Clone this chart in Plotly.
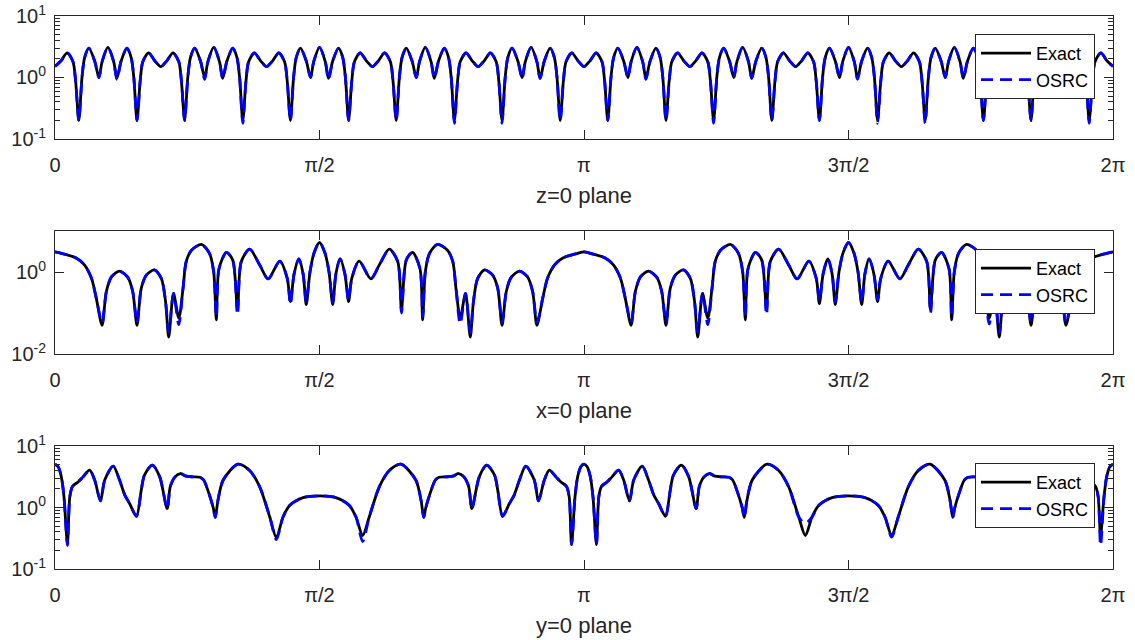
import numpy as np
import plotly.graph_objects as go

# ---------------- data (angle in units of pi) ----------------
# z=0 plane
t_z = [0.000, 0.011, 0.023, 0.034, 0.039, 0.045, 0.051, 0.056, 0.064, 0.075, 0.083, 0.089, 0.100, 0.111, 0.117, 0.125, 0.136, 0.144, 0.149, 0.155, 0.161, 0.166, 0.177, 0.189,
       0.200, 0.211, 0.223, 0.234, 0.239, 0.245, 0.251, 0.256, 0.264, 0.275, 0.283, 0.289, 0.300, 0.311, 0.317, 0.325, 0.336, 0.344, 0.349, 0.355, 0.361, 0.366, 0.377, 0.389,
       0.400, 0.411, 0.423, 0.434, 0.439, 0.445, 0.451, 0.456, 0.464, 0.475, 0.483, 0.489, 0.500, 0.511, 0.517, 0.525, 0.536, 0.544, 0.549, 0.555, 0.561, 0.566, 0.577, 0.589,
       0.600, 0.611, 0.623, 0.634, 0.639, 0.645, 0.651, 0.656, 0.664, 0.675, 0.683, 0.689, 0.700, 0.711, 0.717, 0.725, 0.736, 0.744, 0.749, 0.755, 0.761, 0.766, 0.777, 0.789,
       0.800, 0.811, 0.823, 0.834, 0.839, 0.845, 0.851, 0.856, 0.864, 0.875, 0.883, 0.889, 0.900, 0.911, 0.917, 0.925, 0.936, 0.944, 0.949, 0.955, 0.961, 0.966, 0.977, 0.989,
       1.000, 1.011, 1.023, 1.034, 1.039, 1.045, 1.051, 1.056, 1.064, 1.075, 1.083, 1.089, 1.100, 1.111, 1.117, 1.125, 1.136, 1.144, 1.149, 1.155, 1.161, 1.166, 1.177, 1.189,
       1.200, 1.211, 1.223, 1.234, 1.239, 1.245, 1.251, 1.256, 1.264, 1.275, 1.283, 1.289, 1.300, 1.311, 1.317, 1.325, 1.336, 1.344, 1.349, 1.355, 1.361, 1.366, 1.377, 1.389,
       1.400, 1.411, 1.423, 1.434, 1.439, 1.445, 1.451, 1.456, 1.464, 1.475, 1.483, 1.489, 1.500, 1.511, 1.517, 1.525, 1.536, 1.544, 1.549, 1.555, 1.561, 1.566, 1.577, 1.589,
       1.600, 1.611, 1.623, 1.634, 1.639, 1.645, 1.651, 1.656, 1.664, 1.675, 1.683, 1.689, 1.700, 1.711, 1.717, 1.725, 1.736, 1.744, 1.749, 1.755, 1.761, 1.766, 1.777, 1.789,
       1.800, 1.811, 1.823, 1.834, 1.839, 1.845, 1.851, 1.856, 1.864, 1.875, 1.883, 1.889, 1.900, 1.911, 1.917, 1.925, 1.936, 1.944, 1.949, 1.955, 1.961, 1.966, 1.977, 1.989,
       2.000]
exact_z = [1.52, 1.85, 2.52, 1.80, 0.87, 0.20, 1.00, 2.10, 3.00, 1.85, 1.00, 1.80, 3.10, 1.80, 0.97, 1.85, 3.00, 2.10, 1.00, 0.20, 0.87, 1.80, 2.52, 1.85,
           1.50, 1.85, 2.52, 1.80, 0.87, 0.20, 1.00, 2.10, 3.00, 1.85, 1.00, 1.80, 3.10, 1.80, 0.97, 1.85, 3.00, 2.10, 1.00, 0.20, 0.87, 1.80, 2.52, 1.85,
           1.50, 1.85, 2.52, 1.80, 0.87, 0.20, 1.00, 2.10, 3.00, 1.85, 1.00, 1.80, 3.10, 1.80, 0.97, 1.85, 3.00, 2.10, 1.00, 0.20, 0.87, 1.80, 2.52, 1.85,
           1.50, 1.85, 2.52, 1.80, 0.87, 0.20, 1.00, 2.10, 3.00, 1.85, 1.00, 1.80, 3.10, 1.80, 0.97, 1.85, 3.00, 2.10, 1.00, 0.20, 0.87, 1.80, 2.52, 1.85,
           1.50, 1.85, 2.52, 1.80, 0.87, 0.20, 1.00, 2.10, 3.00, 1.85, 1.00, 1.80, 3.10, 1.80, 0.97, 1.85, 3.00, 2.10, 1.00, 0.20, 0.87, 1.80, 2.52, 1.85,
           1.50, 1.85, 2.52, 1.80, 0.87, 0.20, 1.00, 2.10, 3.00, 1.85, 1.00, 1.80, 3.10, 1.80, 0.97, 1.85, 3.00, 2.10, 1.00, 0.20, 0.87, 1.80, 2.52, 1.85,
           1.50, 1.85, 2.52, 1.80, 0.87, 0.20, 1.00, 2.10, 3.00, 1.85, 1.00, 1.80, 3.10, 1.80, 0.97, 1.85, 3.00, 2.10, 1.00, 0.20, 0.87, 1.80, 2.52, 1.85,
           1.50, 1.85, 2.52, 1.80, 0.87, 0.20, 1.00, 2.10, 3.00, 1.85, 1.00, 1.80, 3.10, 1.80, 0.97, 1.85, 3.00, 2.10, 1.00, 0.20, 0.87, 1.80, 2.52, 1.85,
           1.50, 1.85, 2.52, 1.80, 0.87, 0.20, 1.00, 2.10, 3.00, 1.85, 1.00, 1.80, 3.10, 1.80, 0.97, 1.85, 3.00, 2.10, 1.00, 0.20, 0.87, 1.80, 2.52, 1.85,
           1.50, 1.85, 2.52, 1.80, 0.87, 0.20, 1.00, 2.10, 3.00, 1.85, 1.00, 1.80, 3.10, 1.80, 0.97, 1.85, 3.00, 2.10, 1.00, 0.20, 0.87, 1.80, 2.52, 1.85,
           1.52]
osrc_z = [1.52, 1.85, 2.52, 1.80, 0.87, 0.20, 1.00, 2.10, 3.00, 1.85, 1.00, 1.80, 3.10, 1.80, 0.93, 1.85, 3.00, 2.10, 1.00, 0.20, 0.87, 1.80, 2.52, 1.85,
          1.50, 1.85, 2.52, 1.80, 0.87, 0.20, 1.00, 2.10, 3.00, 1.85, 0.93, 1.80, 3.10, 1.80, 0.97, 1.85, 3.00, 2.10, 1.00, 0.18, 0.87, 1.80, 2.52, 1.85,
          1.50, 1.85, 2.52, 1.80, 0.87, 0.20, 1.00, 2.10, 3.00, 1.85, 1.00, 1.80, 3.10, 1.80, 0.93, 1.85, 3.00, 2.10, 1.00, 0.20, 0.87, 1.80, 2.52, 1.85,
          1.50, 1.85, 2.52, 1.80, 0.87, 0.20, 1.00, 2.10, 3.00, 1.85, 1.00, 1.80, 3.10, 1.80, 0.97, 1.85, 3.00, 2.10, 1.00, 0.18, 0.87, 1.80, 2.52, 1.85,
          1.50, 1.85, 2.52, 1.80, 0.87, 0.18, 1.00, 2.10, 3.00, 1.85, 0.95, 1.80, 3.10, 1.80, 0.97, 1.85, 3.00, 2.10, 1.00, 0.20, 0.87, 1.80, 2.52, 1.85,
          1.50, 1.85, 2.52, 1.80, 0.87, 0.20, 1.00, 2.10, 3.00, 1.85, 1.00, 1.80, 3.10, 1.80, 0.93, 1.85, 3.00, 2.10, 1.00, 0.20, 0.87, 1.80, 2.52, 1.85,
          1.50, 1.85, 2.52, 1.80, 0.87, 0.18, 1.00, 2.10, 3.00, 1.85, 1.00, 1.80, 3.10, 1.80, 0.97, 1.85, 3.00, 2.10, 1.00, 0.20, 0.87, 1.80, 2.52, 1.85,
          1.50, 1.85, 2.52, 1.80, 0.87, 0.20, 1.00, 2.10, 3.00, 1.85, 1.00, 1.80, 3.10, 1.80, 0.93, 1.85, 3.00, 2.10, 1.00, 0.18, 0.87, 1.80, 2.52, 1.85,
          1.50, 1.85, 2.52, 1.80, 0.87, 0.18, 1.00, 2.10, 3.00, 1.85, 1.00, 1.80, 3.10, 1.80, 0.97, 1.85, 3.00, 2.10, 1.00, 0.20, 0.87, 1.80, 2.52, 1.85,
          1.50, 1.85, 2.52, 1.80, 0.87, 0.20, 1.00, 2.10, 3.00, 1.85, 0.95, 1.80, 3.10, 1.80, 0.97, 1.85, 3.00, 2.10, 1.00, 0.18, 0.87, 1.80, 2.52, 1.85,
          1.52]

# x=0 plane
t_x = [0.000, 0.012, 0.040, 0.056, 0.069, 0.078, 0.089, 0.097, 0.107, 0.122, 0.138, 0.147, 0.155, 0.163, 0.173, 0.188, 0.201, 0.209, 0.215, 0.224, 0.234, 0.242, 0.248, 0.258, 0.277, 0.292, 0.300, 0.305, 0.310, 0.324, 0.336, 0.345, 0.352, 0.368, 0.387, 0.403, 0.425, 0.439, 0.445, 0.452, 0.461, 0.469, 0.475, 0.482, 0.490, 0.500,
       0.510, 0.518, 0.525, 0.531, 0.539, 0.548, 0.555, 0.561, 0.575, 0.597, 0.613, 0.632, 0.648, 0.655, 0.664, 0.676, 0.690, 0.695, 0.700, 0.708, 0.723, 0.742, 0.752, 0.758, 0.766, 0.776, 0.785, 0.791, 0.799, 0.812, 0.827, 0.837, 0.845, 0.853, 0.862, 0.878, 0.893, 0.903, 0.911, 0.922, 0.931, 0.944, 0.960, 0.988, 1.000,
       1.012, 1.040, 1.056, 1.069, 1.078, 1.089, 1.097, 1.107, 1.122, 1.138, 1.147, 1.155, 1.163, 1.173, 1.188, 1.201, 1.209, 1.215, 1.224, 1.234, 1.242, 1.248, 1.258, 1.277, 1.292, 1.300, 1.305, 1.310, 1.324, 1.336, 1.345, 1.352, 1.368, 1.387, 1.403, 1.425, 1.439, 1.445, 1.452, 1.461, 1.469, 1.475, 1.482, 1.490, 1.500,
       1.510, 1.518, 1.525, 1.531, 1.539, 1.548, 1.555, 1.561, 1.575, 1.597, 1.613, 1.632, 1.648, 1.655, 1.664, 1.676, 1.690, 1.695, 1.700, 1.708, 1.723, 1.742, 1.752, 1.758, 1.766, 1.776, 1.785, 1.791, 1.799, 1.812, 1.827, 1.837, 1.845, 1.853, 1.862, 1.878, 1.893, 1.903, 1.911, 1.922, 1.931, 1.944, 1.960, 1.988, 2.000]
exact_x = [3.1, 2.85, 2.2, 1.48, 0.70, 0.23, 0.05, 0.33, 0.77, 1.05, 0.73, 0.33, 0.05, 0.40, 0.85, 1.12, 0.70, 0.19, 0.026, 0.30, 0.075, 0.40, 1.78, 3.4, 4.7, 2.85, 1.0, 0.068, 1.2, 3.0, 1.95, 0.12, 1.78, 3.6, 1.48, 0.68, 1.85, 0.70, 0.19, 0.9, 2.1, 0.9, 0.16, 1.0, 3.0, 5.25,
           3.0, 1.0, 0.16, 0.9, 2.1, 0.9, 0.19, 0.70, 1.85, 0.68, 1.48, 3.6, 1.78, 0.12, 1.95, 3.0, 1.2, 0.068, 1.0, 2.85, 4.7, 3.4, 1.78, 0.40, 0.075, 0.30, 0.026, 0.19, 0.70, 1.12, 0.85, 0.40, 0.05, 0.33, 0.73, 1.05, 0.77, 0.33, 0.05, 0.23, 0.70, 1.48, 2.2, 2.85, 3.1,
           2.85, 2.2, 1.48, 0.70, 0.23, 0.05, 0.33, 0.77, 1.05, 0.73, 0.33, 0.05, 0.40, 0.85, 1.12, 0.70, 0.19, 0.026, 0.30, 0.075, 0.40, 1.78, 3.4, 4.7, 2.85, 1.0, 0.068, 1.2, 3.0, 1.95, 0.12, 1.78, 3.6, 1.48, 0.68, 1.85, 0.70, 0.17, 0.9, 2.1, 0.9, 0.16, 1.0, 3.0, 5.25,
           3.0, 1.0, 0.16, 0.9, 2.1, 0.9, 0.19, 0.70, 1.85, 0.68, 1.48, 3.6, 1.78, 0.12, 1.95, 3.0, 1.2, 0.068, 1.0, 2.85, 4.7, 3.4, 1.78, 0.40, 0.075, 0.30, 0.026, 0.19, 0.70, 1.12, 0.85, 0.40, 0.05, 0.33, 0.73, 1.05, 0.77, 0.33, 0.05, 0.23, 0.70, 1.48, 2.2, 2.85, 3.1]
osrc_x = [3.1, 2.85, 2.2, 1.48, 0.70, 0.23, 0.058, 0.33, 0.77, 1.05, 0.73, 0.33, 0.058, 0.40, 0.85, 1.12, 0.70, 0.19, 0.034, 0.30, 0.052, 0.40, 1.78, 3.4, 4.7, 2.85, 1.0, 0.08, 1.2, 3.0, 1.95, 0.09, 1.78, 3.6, 1.48, 0.68, 1.85, 0.70, 0.16, 0.9, 2.1, 0.9, 0.19, 1.0, 3.0, 5.25,
          3.0, 1.0, 0.18, 0.9, 2.1, 0.9, 0.21, 0.70, 1.85, 0.68, 1.48, 3.6, 1.78, 0.10, 1.95, 3.0, 1.2, 0.08, 1.0, 2.85, 4.7, 3.4, 1.78, 0.40, 0.054, 0.30, 0.033, 0.19, 0.70, 1.12, 0.85, 0.40, 0.058, 0.33, 0.73, 1.05, 0.77, 0.33, 0.058, 0.23, 0.70, 1.48, 2.2, 2.85, 3.1,
          2.85, 2.2, 1.48, 0.70, 0.23, 0.058, 0.33, 0.77, 1.05, 0.73, 0.33, 0.058, 0.40, 0.85, 1.12, 0.70, 0.19, 0.034, 0.30, 0.052, 0.40, 1.78, 3.4, 4.7, 2.85, 1.0, 0.08, 1.2, 3.0, 1.95, 0.09, 1.78, 3.6, 1.48, 0.68, 1.85, 0.70, 0.20, 0.9, 2.1, 0.9, 0.19, 1.0, 3.0, 5.25,
          3.0, 1.0, 0.18, 0.9, 2.1, 0.9, 0.21, 0.70, 1.85, 0.68, 1.48, 3.6, 1.78, 0.10, 1.95, 3.0, 1.2, 0.08, 1.0, 2.85, 4.7, 3.4, 1.78, 0.40, 0.054, 0.30, 0.033, 0.19, 0.70, 1.12, 0.85, 0.40, 0.058, 0.33, 0.73, 1.05, 0.77, 0.33, 0.058, 0.23, 0.70, 1.48, 2.2, 2.85, 3.1]

# y=0 plane
t_y = [0.000, 0.006, 0.012, 0.017, 0.0235, 0.028, 0.033, 0.0435, 0.053, 0.0655, 0.075, 0.086, 0.094, 0.110, 0.122, 0.132, 0.141, 0.154, 0.163, 0.169, 0.184, 0.198, 0.212, 0.218, 0.227, 0.237, 0.248, 0.261, 0.274, 0.281, 0.289, 0.299, 0.303, 0.308, 0.318, 0.346, 0.368, 0.387, 0.406, 0.4185, 0.431, 0.444, 0.469, 0.500,
       0.531, 0.556, 0.569, 0.5815, 0.594, 0.613, 0.632, 0.654, 0.682, 0.692, 0.697, 0.701, 0.711, 0.719, 0.726, 0.739, 0.752, 0.763, 0.773, 0.782, 0.788, 0.802, 0.816, 0.831, 0.837, 0.846, 0.859, 0.868, 0.878, 0.890, 0.906, 0.914, 0.925, 0.9345, 0.947, 0.9565, 0.967, 0.972, 0.9765, 0.983, 0.988, 0.994, 1.000,
       1.006, 1.012, 1.017, 1.0235, 1.028, 1.033, 1.0435, 1.053, 1.0655, 1.075, 1.086, 1.094, 1.110, 1.122, 1.132, 1.141, 1.154, 1.163, 1.169, 1.184, 1.198, 1.212, 1.218, 1.227, 1.237, 1.248, 1.261, 1.274, 1.281, 1.289, 1.299, 1.303, 1.308, 1.318, 1.346, 1.368, 1.387, 1.406, 1.4185, 1.431, 1.444, 1.469, 1.500,
       1.531, 1.556, 1.569, 1.5815, 1.594, 1.613, 1.632, 1.654, 1.682, 1.692, 1.697, 1.701, 1.711, 1.719, 1.726, 1.739, 1.752, 1.763, 1.773, 1.782, 1.788, 1.802, 1.816, 1.831, 1.837, 1.846, 1.859, 1.868, 1.878, 1.890, 1.906, 1.914, 1.925, 1.9345, 1.947, 1.9565, 1.967, 1.972, 1.9765, 1.983, 1.988, 1.994, 2.000]
exact_y = [5.07, 4.6, 3.15, 1.49, 0.26, 1.49, 2.2, 2.6, 3.15, 4.05, 2.8, 1.28, 2.8, 4.7, 2.8, 1.59, 1.16, 0.72, 1.9, 3.35, 4.9, 3.15, 0.96, 2.2, 3.15, 3.57, 3.23, 3.15, 3.1, 2.8, 1.9, 1.0, 0.69, 1.3, 2.8, 5.07, 4.0, 2.17, 0.70, 0.325, 0.70, 1.09, 1.45, 1.55,
           1.45, 1.09, 0.70, 0.35, 0.70, 2.17, 4.0, 5.07, 2.8, 1.3, 0.69, 1.0, 1.9, 2.8, 3.1, 3.15, 3.23, 3.57, 3.15, 2.2, 0.96, 3.15, 4.9, 3.35, 1.9, 0.72, 1.16, 1.59, 2.8, 4.7, 2.8, 1.28, 2.8, 4.05, 3.15, 2.6, 2.2, 1.49, 0.25, 1.49, 3.15, 4.6, 5.07,
           4.6, 3.15, 1.49, 0.25, 1.49, 2.2, 2.6, 3.15, 4.05, 2.8, 1.28, 2.8, 4.7, 2.8, 1.59, 1.16, 0.72, 1.9, 3.35, 4.9, 3.15, 0.96, 2.2, 3.15, 3.57, 3.23, 3.15, 3.1, 2.8, 1.9, 1.0, 0.69, 1.3, 2.8, 5.07, 4.0, 2.17, 0.70, 0.35, 0.70, 1.09, 1.45, 1.55,
           1.45, 1.09, 0.70, 0.35, 0.70, 2.17, 4.0, 5.07, 2.8, 1.3, 0.69, 1.0, 1.9, 2.8, 3.1, 3.15, 3.23, 3.57, 3.15, 2.2, 0.96, 3.15, 4.9, 3.35, 1.9, 0.72, 1.16, 1.59, 2.8, 4.7, 2.8, 1.28, 2.8, 4.05, 3.15, 2.6, 2.2, 1.49, 0.35, 1.49, 3.15, 4.6, 5.07]
osrc_y = [5.07, 4.6, 3.15, 1.49, 0.24, 1.49, 2.2, 2.6, 3.15, 4.05, 2.8, 1.28, 2.8, 4.7, 2.8, 1.59, 1.16, 0.72, 1.9, 3.35, 4.9, 3.15, 0.96, 2.2, 3.15, 3.57, 3.23, 3.15, 3.1, 2.8, 1.9, 1.0, 0.69, 1.3, 2.8, 5.07, 4.0, 2.17, 0.70, 0.30, 0.70, 1.09, 1.45, 1.55,
          1.45, 1.09, 0.70, 0.28, 0.70, 2.17, 4.0, 5.07, 2.8, 1.3, 0.69, 1.0, 1.9, 2.8, 3.1, 3.15, 3.23, 3.57, 3.15, 2.2, 0.96, 3.15, 4.9, 3.35, 1.9, 0.72, 1.16, 1.59, 2.8, 4.7, 2.8, 1.28, 2.8, 4.05, 3.15, 2.6, 2.2, 1.49, 0.25, 1.49, 3.15, 4.6, 5.07,
          4.6, 3.15, 1.49, 0.25, 1.49, 2.2, 2.6, 3.15, 4.05, 2.8, 1.28, 2.8, 4.7, 2.8, 1.59, 1.16, 0.72, 1.9, 3.35, 4.9, 3.15, 0.96, 2.2, 3.15, 3.57, 3.23, 3.15, 3.1, 2.8, 1.9, 1.0, 0.69, 1.3, 2.8, 5.07, 4.0, 2.17, 0.70, 0.55, 0.70, 1.09, 1.45, 1.55,
          1.45, 1.09, 0.70, 0.33, 0.70, 2.17, 4.0, 5.07, 2.8, 1.3, 0.69, 1.0, 1.9, 2.8, 3.1, 3.15, 3.23, 3.57, 3.15, 2.2, 0.96, 3.15, 4.9, 3.35, 1.9, 0.72, 1.16, 1.59, 2.8, 4.7, 2.8, 1.28, 2.8, 4.05, 3.15, 2.6, 2.2, 1.49, 0.24, 1.49, 3.15, 4.6, 5.07]

x_tick_labels = ["0", "π/2", "π", "3π/2", "2π"]
x_tick_pos = [0.0, 0.5, 1.0, 1.5, 2.0]
plane_titles = ["z=0 plane", "x=0 plane", "y=0 plane"]
series_names = ["Exact", "OSRC"]

# ---------------- figure ----------------
FONT = "Liberation Sans, Arial, sans-serif"
AX = "#262626"
fig = go.Figure()

panels = [
    (t_z, exact_z, osrc_z, "legend", "x", "y"),
    (t_x, exact_x, osrc_x, "legend2", "x2", "y2"),
    (t_y, exact_y, osrc_y, "legend3", "x3", "y3"),
]
for t, ex, os_, lg, xa, ya in panels:
    xr = np.pi * np.array(t)
    fig.add_trace(go.Scatter(x=xr, y=ex, mode="lines", name=series_names[0], legend=lg,
                             xaxis=xa, yaxis=ya,
                             line=dict(color="black", width=2.8, shape="spline", smoothing=0.8)))
    fig.add_trace(go.Scatter(x=xr, y=os_, mode="lines", name=series_names[1], legend=lg,
                             xaxis=xa, yaxis=ya,
                             line=dict(color="#0000FF", width=2.8, dash="12px,7px", shape="spline", smoothing=0.8)))

xt_vals = [np.pi * v for v in x_tick_pos]

def xaxis(anchor, title):
    return dict(anchor=anchor, domain=[0, 1], range=[0, 2 * np.pi], tickmode="array",
                tickvals=xt_vals, ticktext=x_tick_labels, ticks="inside", ticklen=9,
                tickcolor=AX, showline=True, linecolor=AX, linewidth=1, mirror="allticks",
                showgrid=False, zeroline=False, automargin=False, ticklabelstandoff=8,
                tickfont=dict(family=FONT, size=20, color=AX),
                title=dict(text=title, font=dict(family=FONT, size=22, color=AX), standoff=12))

minor_vals = [0.2, 0.3, 0.4, 0.5, 0.6, 0.7, 0.8, 0.9, 2, 3, 4, 5, 6, 7, 8, 9]

def yaxis(anchor, domain, rng, tv, tt, minor):
    d = dict(anchor=anchor, domain=domain, type="log", range=rng, tickmode="array",
             tickvals=tv, ticktext=tt, ticks="inside", ticklen=9, tickcolor=AX,
             showline=True, linecolor=AX, linewidth=1, mirror="allticks",
             showgrid=False, zeroline=False, automargin=False, ticklabelstandoff=4,
             tickfont=dict(family=FONT, size=20, color=AX))
    if minor:
        d["minor"] = dict(tickmode="array", tickvals=minor_vals, ticks="inside",
                          ticklen=5, tickcolor=AX, showgrid=False)
    return d

lab = lambda e: "10<sup>%d</sup>" % e

fig.update_layout(
    width=1135, height=640,
    margin=dict(l=55, r=22, t=16, b=71),
    paper_bgcolor="white", plot_bgcolor="white",
    xaxis=xaxis("y", plane_titles[0]),
    xaxis2=xaxis("y2", plane_titles[1]),
    xaxis3=xaxis("y3", plane_titles[2]),
    yaxis=yaxis("x", [0.7776, 1.0], [-1, 1], [0.1, 1, 10], [lab(-1), lab(0), lab(1)], True),
    yaxis2=yaxis("x2", [0.3888, 0.6112], [-2, 1], [0.01, 1], [lab(-2), lab(0)], False),
    yaxis3=yaxis("x3", [0.0, 0.2224], [-1, 1], [0.1, 1, 10], [lab(-1), lab(0), lab(1)], True),
    showlegend=True,
)
leg_common = dict(xanchor="right", x=0.983, yanchor="top", bgcolor="white",
                  bordercolor=AX, borderwidth=1, itemwidth=50, tracegroupgap=0,
                  entrywidth=90, entrywidthmode="pixels",
                  font=dict(family=FONT, size=18, color="black"))
fig.update_layout(
    legend=dict(y=0.9675, **leg_common),
    legend2=dict(y=0.5787, **leg_common),
    legend3=dict(y=0.1917, **leg_common),
)

fig.write_html("out.html", config={"displayModeBar": False},
               post_script="document.body.style.margin='0px';")
